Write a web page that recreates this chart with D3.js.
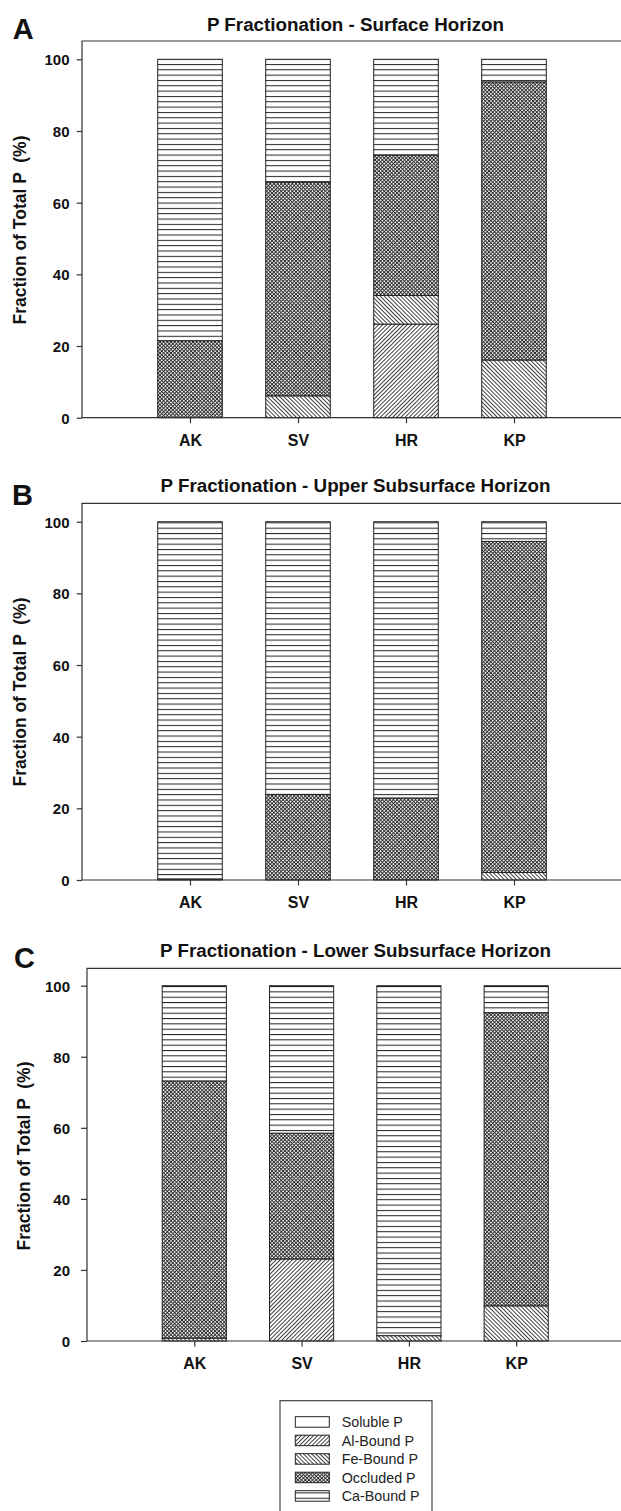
<!DOCTYPE html>
<html><head><meta charset="utf-8">
<script src="https://cdn.jsdelivr.net/npm/d3@7/dist/d3.min.js"></script>
<style>
html,body{margin:0;padding:0;background:#fff;}
svg{display:block;font-family:"Liberation Sans",Arial,Helvetica,sans-serif;}
</style></head><body>
<script>
// ---------- DATA ----------
const sites = ["AK", "SV", "HR", "KP"];
const fractions = ["Soluble P", "Al-Bound P", "Fe-Bound P", "Occluded P", "Ca-Bound P"];
const yTicks = [0, 20, 40, 60, 80, 100];

// Panel A - Surface Horizon (% of total P)
const surfaceSoluble  = [0, 0, 0, 0];
const surfaceAl       = [0, 0, 26.1, 0];
const surfaceFe       = [0, 6.1, 8.0, 16.1];
const surfaceOccluded = [21.5, 59.6, 39.2, 77.6];
const surfaceCa       = [78.5, 34.3, 26.7, 6.3];

// Panel B - Upper Subsurface Horizon
const upperSoluble  = [0, 0, 0, 0];
const upperAl       = [0, 0, 0, 0];
const upperFe       = [0, 0, 0, 2.1];
const upperOccluded = [0.3, 23.9, 22.9, 92.4];
const upperCa       = [99.7, 76.1, 77.1, 5.5];

// Panel C - Lower Subsurface Horizon
const lowerSoluble  = [0, 0, 0, 0];
const lowerAl       = [0, 23.1, 0, 0];
const lowerFe       = [0.8, 0, 1.5, 9.9];
const lowerOccluded = [72.4, 35.4, 0, 82.5];
const lowerCa       = [26.8, 41.5, 98.5, 7.6];

const titles = ["P Fractionation - Surface Horizon",
                "P Fractionation - Upper Subsurface Horizon",
                "P Fractionation - Lower Subsurface Horizon"];
const letters = ["A", "B", "C"];
const yLabel = "Fraction of Total P (%)";

function table(sol, al, fe, occ, ca) {
  return sites.map((s, i) => ({site: s, "Soluble P": sol[i], "Al-Bound P": al[i],
    "Fe-Bound P": fe[i], "Occluded P": occ[i], "Ca-Bound P": ca[i]}));
}
const panelData = [
  table(surfaceSoluble, surfaceAl, surfaceFe, surfaceOccluded, surfaceCa),
  table(upperSoluble, upperAl, upperFe, upperOccluded, upperCa),
  table(lowerSoluble, lowerAl, lowerFe, lowerOccluded, lowerCa)
];

// ---------- LAYOUT ----------
const layout = [
  {left: 82, right: 622, top: 41, y0: 417.7, y100: 59.3, titleY: 30.7, letterX: 12.7, letterY: 39.3, ylabX: 26, ylabY: 230, tickSize: 5.3, tickPad: 7.2},
  {left: 82, right: 622, top: 503.3, y0: 880, y100: 521.7, titleY: 492.3, letterX: 12, letterY: 505, ylabX: 26, ylabY: 692, tickSize: 5.3, tickPad: 7.2},
  {left: 87, right: 623.5, top: 968.3, y0: 1341, y100: 985.7, titleY: 957.3, letterX: 13.9, letterY: 968.3, ylabX: 30, ylabY: 1156, tickSize: 6, tickPad: 11}
];

const svg = d3.select("body").append("svg").attr("width", 621).attr("height", 1511);
const defs = svg.append("defs");
const ink = "#222";

// patterns
function linePat(id, spacing, angle, width, color) {
  const p = defs.append("pattern").attr("id", id).attr("patternUnits", "userSpaceOnUse")
    .attr("width", spacing).attr("height", spacing)
    .attr("patternTransform", `rotate(${angle})`);
  p.append("rect").attr("width", spacing).attr("height", spacing).attr("fill", "#fff");
  p.append("line").attr("x1", spacing / 2).attr("x2", spacing / 2).attr("y1", -1).attr("y2", spacing + 1)
    .attr("stroke", color).attr("stroke-width", width);
}
defs.append("pattern").attr("id", "pSol").attr("patternUnits", "userSpaceOnUse")
  .attr("width", 4).attr("height", 4).append("rect").attr("width", 4).attr("height", 4).attr("fill", "#fff");
linePat("pAl", 2.9, 45, 0.85, ink);
linePat("pFe", 2.9, -45, 0.85, ink);
(function () {
  const s = 2.6;
  const p = defs.append("pattern").attr("id", "pOcc").attr("patternUnits", "userSpaceOnUse")
    .attr("width", s).attr("height", s).attr("patternTransform", "rotate(45)");
  p.append("rect").attr("width", s).attr("height", s).attr("fill", "#fff");
  p.append("path").attr("d", `M${s / 2},-1V${s + 1}M-1,${s / 2}H${s + 1}`)
    .attr("stroke", "#2a2a2a").attr("stroke-width", 1.05);
})();
(function () {
  const p = defs.append("pattern").attr("id", "pCa").attr("patternUnits", "userSpaceOnUse")
    .attr("width", 8).attr("height", 5.33);
  p.append("rect").attr("width", 8).attr("height", 5.33).attr("fill", "#fff");
  p.append("line").attr("x1", 0).attr("x2", 8).attr("y1", 0.5).attr("y2", 0.5)
    .attr("stroke", ink).attr("stroke-width", 1);
})();
const fills = {"Soluble P": "url(#pSol)", "Al-Bound P": "url(#pAl)", "Fe-Bound P": "url(#pFe)",
  "Occluded P": "url(#pOcc)", "Ca-Bound P": "url(#pCa)"};

const stack = d3.stack().keys(fractions);

panelData.forEach((data, pi) => {
  const L = layout[pi];
  const g = svg.append("g");
  const x = d3.scalePoint().domain(sites).range([L.left, L.right]).padding(1);
  const step = x.step();
  const bw = step * 0.598;
  const y = d3.scaleLinear().domain([0, 100]).range([L.y0, L.y100]);

  // bars
  const layers = stack(data);
  layers.forEach(layer => {
    g.append("g").selectAll("rect").data(layer.filter(d => d[1] - d[0] > 0)).join("rect")
      .attr("x", d => x(d.data.site) - bw / 2)
      .attr("width", bw)
      .attr("y", d => y(d[1]))
      .attr("height", d => y(d[0]) - y(d[1]))
      .attr("fill", fills[layer.key])
      .attr("stroke", ink).attr("stroke-width", 1);
  });

  // frame lines (left, top, bottom)
  g.append("path")
    .attr("d", `M${L.right},${L.top}H${L.left}V${L.y0}H${L.right}`)
    .attr("fill", "none").attr("stroke", "#333").attr("stroke-width", 1.2);

  // y axis
  const ya = g.append("g").attr("transform", `translate(${L.left},0)`)
    .call(d3.axisLeft(y).tickValues(yTicks).tickSize(L.tickSize).tickPadding(L.tickPad));
  ya.select(".domain").remove();
  ya.selectAll("line").attr("stroke", "#333").attr("stroke-width", 1.2);
  ya.selectAll("text").attr("font-size", 15).attr("font-weight", "bold").attr("fill", "#111")
    .attr("font-family", "'Liberation Sans',Arial,sans-serif").attr("dy", "0.36em");

  // x axis
  const xa = g.append("g").attr("transform", `translate(0,${L.y0})`)
    .call(d3.axisBottom(x).tickSize(5.5).tickPadding(0));
  xa.select(".domain").remove();
  xa.selectAll("line").attr("stroke", "#333").attr("stroke-width", 1.2);
  xa.selectAll("text").attr("font-size", 16).attr("font-weight", "bold").attr("fill", "#111")
    .attr("font-family", "'Liberation Sans',Arial,sans-serif").attr("dy", null).attr("y", 28.4);

  // title
  svg.append("text").attr("x", 355.5).attr("y", L.titleY).attr("text-anchor", "middle")
    .attr("font-size", 18.8).attr("font-weight", "bold").attr("fill", "#111").text(titles[pi]);
  // panel letter
  svg.append("text").attr("x", L.letterX).attr("y", L.letterY)
    .attr("font-size", 29).attr("font-weight", "bold").attr("fill", "#111").text(letters[pi]);
  // y label
  svg.append("text").attr("transform", `translate(${L.ylabX},${L.ylabY}) rotate(-90)`)
    .attr("text-anchor", "middle").attr("font-size", 17.5).attr("font-weight", "bold")
    .attr("fill", "#111").attr("xml:space", "preserve").text(yLabel.replace("P (", "P  ("));
});

// legend
const lg = svg.append("g");
lg.append("rect").attr("x", 280).attr("y", 1400.7).attr("width", 152).attr("height", 125)
  .attr("fill", "#fff").attr("stroke", "#333").attr("stroke-width", 1.1);
const ly = d3.scalePoint().domain(fractions).range([1416.7, 1490.7]);
fractions.forEach(k => {
  lg.append("rect").attr("x", 295.3).attr("y", ly(k)).attr("width", 34).attr("height", 10.5)
    .attr("fill", fills[k]).attr("stroke", ink).attr("stroke-width", 1);
  lg.append("text").attr("x", 341.7).attr("y", ly(k) + 10.3).attr("font-size", 14.3)
    .attr("fill", "#222").text(k);
});
</script>
</body></html>
